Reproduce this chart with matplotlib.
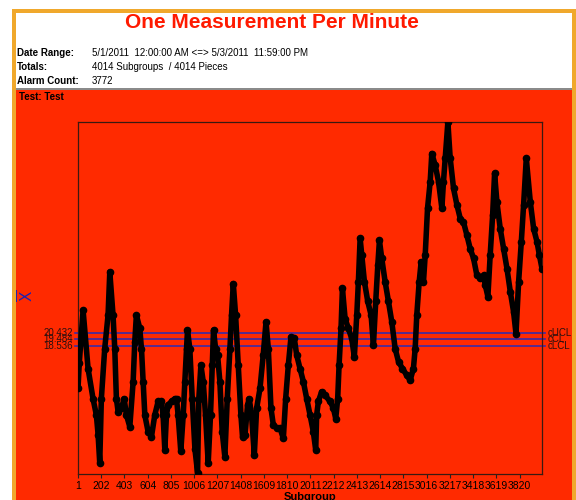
import matplotlib.pyplot as plt
from matplotlib.patches import Rectangle
from matplotlib.transforms import blended_transform_factory

# data (subgroup, individual value)
subgroup = [1, 12, 45, 88, 131, 160, 175, 189, 203, 232, 261, 276, 304, 319, 333, 348,
            377, 400, 420, 449, 478, 492, 506, 535, 550, 564, 579, 607, 636, 665, 694,
            723, 737, 752, 766, 781, 810, 839, 853, 867, 890, 911, 925, 940, 948, 968,
            989, 1012, 1035, 1046, 1064, 1084, 1104, 1127, 1147, 1162, 1173, 1191, 1208,
            1228, 1248, 1271, 1292, 1315, 1329, 1344, 1364, 1387, 1410, 1424, 1445, 1468,
            1482, 1502, 1526, 1546, 1575, 1603, 1627, 1647, 1670, 1690, 1719, 1748, 1777,
            1797, 1820, 1843, 1872, 1892, 1921, 1950, 1979, 2008, 2036, 2057, 2065, 2080,
            2108, 2137, 2181, 2210, 2230, 2247, 2259, 2276, 2288, 2311, 2339, 2368, 2391,
            2412, 2426, 2441, 2455, 2478, 2507, 2536, 2556, 2576, 2594, 2608, 2628, 2657,
            2686, 2715, 2744, 2773, 2807, 2845, 2874, 2902, 2917, 2931, 2952, 2969, 2989,
            3004, 3024, 3047, 3061, 3090, 3119, 3148, 3162, 3177, 3200, 3220, 3249, 3278,
            3307, 3335, 3364, 3393, 3422, 3451, 3480, 3509, 3523, 3546, 3566, 3587, 3604,
            3624, 3653, 3682, 3711, 3740, 3768, 3789, 3812, 3835, 3855, 3878, 3913, 3942,
            3971, 3991, 4014]
values = [12.3, 16.0, 23.7, 15.2, 10.8, 8.4, 5.5, 1.4, 10.8, 18.1, 23.0, 29.3, 23.0, 18.1,
          10.8, 8.9, 9.4, 10.8, 8.4, 6.7, 13.3, 19.1, 23.0, 21.1, 18.1, 13.3, 8.4, 6.0,
          5.2, 8.4, 10.4, 10.4, 8.4, 3.3, 8.4, 9.9, 10.4, 10.8, 10.8, 8.4, 3.1, 8.4, 13.3,
          18.1, 20.8, 18.1, 10.8, 3.5, 0.0, 10.8, 15.7, 13.3, 8.4, 1.4, 8.4, 15.7, 20.8,
          18.1, 17.2, 13.3, 6.0, 2.3, 10.8, 18.1, 23.0, 27.6, 23.0, 15.7, 8.4, 5.2, 5.5,
          9.9, 10.8, 8.4, 2.6, 9.4, 12.3, 17.2, 22.0, 18.1, 9.4, 7.0, 6.5, 6.5, 5.0, 10.8,
          15.7, 19.8, 19.6, 17.2, 15.2, 13.3, 10.8, 8.4, 6.0, 3.3, 8.4, 10.4, 11.8, 11.3,
          10.4, 9.4, 7.9, 10.8, 15.7, 21.1, 26.9, 22.5, 21.1, 19.6, 16.9, 23.0, 27.9, 34.2,
          31.8, 27.9, 25.0, 23.0, 18.6, 25.0, 30.3, 33.9, 31.3, 27.9, 25.0, 22.0, 18.1,
          16.2, 15.2, 14.2, 13.5, 15.2, 18.1, 23.0, 27.9, 30.8, 27.9, 31.8, 38.6, 42.5,
          46.6, 44.9, 42.5, 38.6, 42.5, 45.9, 51.2, 45.9, 41.5, 39.1, 37.1, 36.6, 34.7,
          32.7, 31.3, 28.8, 28.4, 28.8, 27.4, 25.7, 31.8, 37.6, 43.7, 39.5, 35.6, 32.7,
          29.8, 26.4, 23.5, 20.3, 27.9, 33.7, 39.1, 45.9, 39.5, 35.6, 33.7, 31.8, 29.8]

limit_values = [20.432, 19.484, 18.536]
limit_names = ["cUCL", "cCL", "cLCL"]
xtick_values = list(range(1, 3821, 201))

header_keys = ["Date Range:", "Totals:", "Alarm Count:"]
header_vals = ["5/1/2011  12:00:00 AM <=> 5/3/2011  11:59:00 PM",
               "4014 Subgroups  / 4014 Pieces",
               "3772"]

W, H = 576, 500
RED = "#ff2a00"
ORANGE = "#f0a82c"

plt.rcParams["font.family"] = ["Liberation Sans", "DejaVu Sans"]
fig = plt.figure(figsize=(W / 100, H / 100), dpi=100)


def px_rect(x0, y0, x1, y1, color):
    # pixel box measured from the top-left corner
    fig.patches.append(Rectangle((x0 / W, 1 - y1 / H), (x1 - x0) / W, (y1 - y0) / H,
                                 transform=fig.transFigure, color=color, lw=0, zorder=-10))


px_rect(12, 9, 576, 500, ORANGE)
px_rect(16, 13, 572, 500, "white")
px_rect(16, 88, 572, 90, "#8a8a8a")
px_rect(16, 90, 572, 500, RED)

fig.text(272 / W, 1 - 23 / H, "One Measurement Per Minute", color="#ff1a00",
         fontsize=15, fontweight="bold", ha="center", va="center")
for i, (k, v) in enumerate(zip(header_keys, header_vals)):
    y = 1 - (53 + 14 * i) / H
    fig.text(17 / W, y, k, fontsize=7, fontweight="bold", va="center")
    fig.text(92 / W, y, v, fontsize=7, va="center")
fig.text(19 / W, 1 - 97 / H, "Test: Test", fontsize=7, fontweight="bold", va="center")

ax = fig.add_axes([78 / W, 1 - 474 / H, (542 - 78) / W, (474 - 122) / H])
ax.set_facecolor(RED)
ax.plot(subgroup, values, color="black", lw=4, marker="o", ms=4.5, zorder=3)

trans = blended_transform_factory(ax.transAxes, ax.transData)
for val, name in zip(limit_values, limit_names):
    ax.plot([-0.006, 1.006], [val, val], transform=trans, color="#3a2aa8", lw=1.2,
            clip_on=False, zorder=2)
    ax.text(-0.01, val, f"{val:.3f}", transform=trans, ha="right", va="center",
            fontsize=7, color="#2a1010")
    ax.text(1.012, val, name, transform=trans, ha="left", va="center",
            fontsize=7, color="#2a1010")

ax.set_xlim(1, 4014)
ax.set_ylim(-0.2, 51.2)
ax.set_yticks([])
ax.set_xticks(xtick_values)
ax.set_xticklabels([str(t) for t in xtick_values], fontsize=7.5)
ax.tick_params(axis="x", length=3, width=0.8, pad=2, color="#222222")
for s in ax.spines.values():
    s.set_color("#3a1a10")
    s.set_linewidth(0.9)
ax.set_xlabel("Subgroup", fontsize=8, fontweight="bold", labelpad=1)
fig.text(27 / W, 1 - 296 / H, r"$\overline{\mathrm{X}}$", rotation=90, color="#2020b0",
         fontsize=11, ha="center", va="center")

plt.savefig("out.png", dpi=100)
